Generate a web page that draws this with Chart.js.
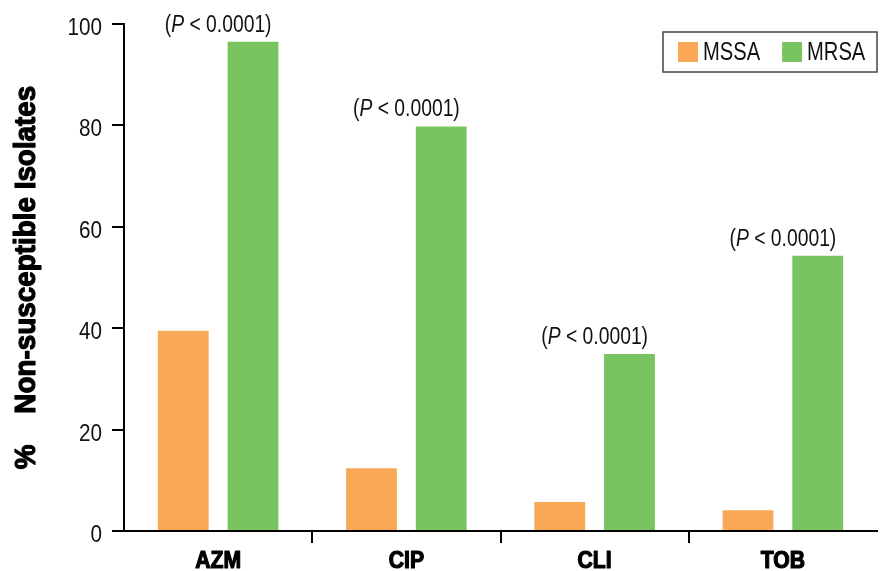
<!DOCTYPE html>
<html>
<head>
<meta charset="utf-8">
<script src="https://cdn.jsdelivr.net/npm/chart.js@4"></script>
<style>
  body { margin: 0; background: #fff; }
  #wrap { width: 883px; height: 571px; }
</style>
</head>
<body>
<div id="wrap"><canvas id="resChart"></canvas></div>
<script>
const categories = ['AZM', 'CIP', 'CLI', 'TOB'];
const mssaValues = [39.5, 12.4, 5.7, 4.1];
const mrsaValues = [96.5, 79.8, 34.9, 54.3];
const pLabels = ['0.0001', '0.0001', '0.0001', '0.0001'];
const yTicks = [0, 20, 40, 60, 80, 100];
const yTitle = '%    Non-susceptible Isolates';

const FAMILY = '"Liberation Sans", Arial, sans-serif';

// no condensed font installed, so squeeze text horizontally
function condText(ctx, text, x, y, font, align, sx, heavy) {
  ctx.save();
  ctx.font = font;
  const w = ctx.measureText(text).width * sx;
  let x0 = x;
  if (align === 'center') x0 = x - w / 2;
  else if (align === 'right') x0 = x - w;
  ctx.translate(x0, y);
  ctx.scale(sx, 1);
  ctx.textAlign = 'left';
  ctx.textBaseline = 'alphabetic';
  ctx.fillText(text, 0, 0);
  if (heavy) {
    // fake a black weight
    ctx.strokeStyle = ctx.fillStyle;
    ctx.lineWidth = heavy;
    ctx.lineJoin = 'round';
    ctx.strokeText(text, 0, 0);
  }
  ctx.restore();
  return w;
}

const axisTextPlugin = {
  id: 'axisText',
  afterDraw(chart) {
    const ctx = chart.ctx;
    const xs = chart.scales.x, ys = chart.scales.y;
    const area = chart.chartArea;
    ctx.save();
    ctx.fillStyle = '#111';
    yTicks.forEach(function(v) {
      condText(ctx, String(v), xs.left - 22, ys.getPixelForValue(v) + 11, '23.5px ' + FAMILY, 'right', 0.88);
    });
    ctx.fillStyle = '#000';
    categories.forEach(function(c, i) {
      condText(ctx, c, xs.getPixelForValue(i), 568, 'bold 23px ' + FAMILY, 'center', 0.92, 1.2);
    });
    // rotated y title
    ctx.save();
    ctx.translate(35, (area.top + area.bottom) / 2);
    ctx.rotate(-Math.PI / 2);
    condText(ctx, yTitle, 0, 0, 'bold 29px ' + FAMILY, 'center', 0.96, 1.2);
    ctx.restore();
    ctx.restore();
  }
};

// P value labels above the MRSA bars, centred on each category
const pValuePlugin = {
  id: 'pValues',
  afterDatasetsDraw(chart) {
    const ctx = chart.ctx;
    const xs = chart.scales.x;
    const bars = chart.getDatasetMeta(1).data;
    const sx = 0.84;
    ctx.save();
    ctx.fillStyle = '#111';
    pLabels.forEach(function(p, i) {
      const parts = [
        ['(', '23px ' + FAMILY],
        ['P', 'italic 23px ' + FAMILY],
        [' < ' + p + ')', '23px ' + FAMILY]
      ];
      let total = 0;
      parts.forEach(function(pt) { ctx.font = pt[1]; total += ctx.measureText(pt[0]).width * sx; });
      let x = xs.getPixelForValue(i) - total / 2;
      const y = bars[i].y - 10;
      parts.forEach(function(pt) {
        x += condText(ctx, pt[0], x, y, pt[1], 'left', sx);
      });
    });
    ctx.restore();
  }
};

// boxed legend in the top right corner
const boxLegendPlugin = {
  id: 'boxLegend',
  afterDraw(chart) {
    const ctx = chart.ctx;
    const right = chart.chartArea.right;
    const left = right - 214;
    const top = 32, h = 40;
    ctx.save();
    ctx.strokeStyle = '#444';
    ctx.lineWidth = 1.5;
    ctx.strokeRect(left, top, right - left, h);
    let x = left + 15;
    chart.data.datasets.forEach(function(ds) {
      ctx.fillStyle = ds.backgroundColor;
      ctx.fillRect(x, top + 10, 20, 20);
      ctx.fillStyle = '#111';
      const w = condText(ctx, ds.label, x + 25, top + 28, '25.5px ' + FAMILY, 'left', 0.79);
      x += 25 + w + 22;
    });
    ctx.restore();
  }
};

new Chart(document.getElementById('resChart').getContext('2d'), {
  type: 'bar',
  data: {
    labels: categories,
    datasets: [
      { label: 'MSSA', data: mssaValues, backgroundColor: '#F9A955' },
      { label: 'MRSA', data: mrsaValues, backgroundColor: '#7AC361' }
    ]
  },
  options: {
    responsive: true,
    maintainAspectRatio: false,
    animation: false,
    categoryPercentage: 0.741,
    barPercentage: 0.729,
    layout: { padding: { top: 24, right: 6, left: 0, bottom: 0 } },
    plugins: {
      legend: { display: false },
      tooltip: { enabled: false }
    },
    scales: {
      x: {
        grid: {
          offset: true,
          drawOnChartArea: false,
          tickLength: 12,
          lineWidth: 2,
          color: function(c) { return c.index > 0 ? '#000' : 'rgba(0,0,0,0)'; }
        },
        border: { display: true, color: '#000', width: 2 },
        ticks: { display: false },
        afterFit: function(s) { s.height = 40; }
      },
      y: {
        min: 0,
        max: 100,
        afterBuildTicks: function(s) { s.ticks = yTicks.map(function(v) { return { value: v }; }); },
        grid: { drawOnChartArea: false, tickLength: 12, lineWidth: 2, color: '#000' },
        border: { display: true, color: '#000', width: 2 },
        ticks: { display: false },
        afterFit: function(s) { s.width = 124; }
      }
    }
  },
  plugins: [pValuePlugin, boxLegendPlugin, axisTextPlugin]
});
</script>
</body>
</html>
